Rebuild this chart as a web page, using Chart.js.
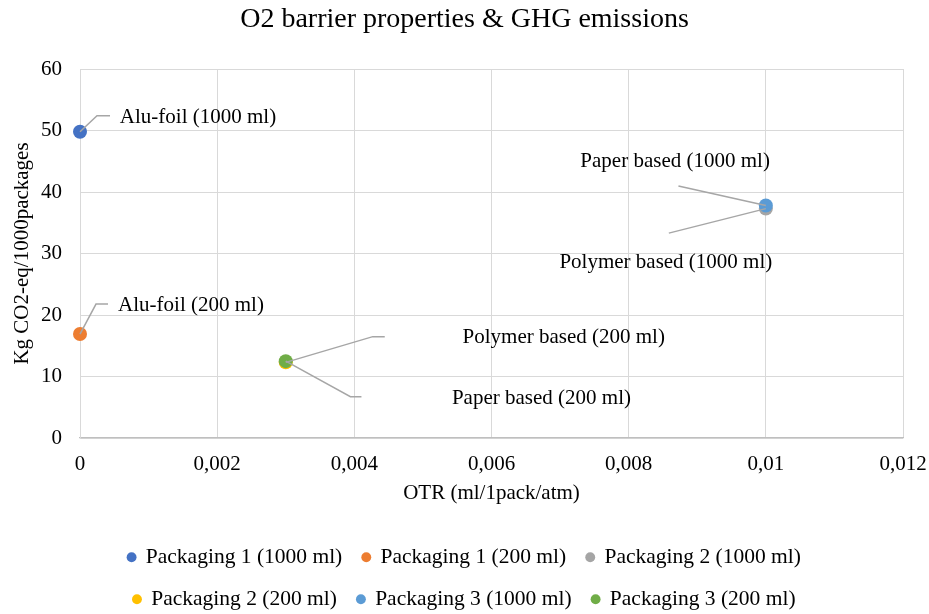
<!DOCTYPE html>
<html>
<head>
<meta charset="utf-8">
<script src="https://cdn.jsdelivr.net/npm/chart.js@4/dist/chart.umd.min.js"></script>
<style>
  html, body { margin: 0; padding: 0; background: #ffffff; }
  canvas { display: block; }
</style>
</head>
<body>
<canvas id="chart" width="929" height="614"></canvas>
<script>
// Series shown in the legend
const seriesNames = [
  'Packaging 1 (1000 ml)',
  'Packaging 1 (200 ml)',
  'Packaging 2 (1000 ml)',
  'Packaging 2 (200 ml)',
  'Packaging 3 (1000 ml)',
  'Packaging 3 (200 ml)'
];
// OTR (ml/1pack/atm) per series
const otrValues = [0, 0, 0.01, 0.003, 0.01, 0.003];
// Kg CO2-eq per 1000 packages per series
const ghgValues = [49.8, 16.9, 37.3, 12.3, 37.8, 12.5];
// Callout text next to each point
const pointLabels = [
  'Alu-foil (1000 ml)',
  'Alu-foil (200 ml)',
  'Polymer based (1000 ml)',
  'Polymer based (200 ml)',
  'Paper based (1000 ml)',
  'Paper based (200 ml)'
];
// Axis tick labels (decimal comma)
const xTickLabels = ['0', '0,002', '0,004', '0,006', '0,008', '0,01', '0,012'];
const yTickLabels = ['0', '10', '20', '30', '40', '50', '60'];

// Styling
const seriesColors = ['#4472C4', '#ED7D31', '#A5A5A5', '#FFC000', '#5B9BD5', '#70AD47'];
const FONT = "'Liberation Serif', 'Times New Roman', serif";
const GRID = '#D9D9D9';
const LEADER = '#A6A6A6';

// Callout geometry, in pixels relative to each point: leader-line vertices and text centre
const calloutLayout = [
  { path: [[17, -16], [30, -16]], text: [118, -14] },
  { path: [[16, -30], [28, -30]], text: [111, -29] },
  { path: [[-97, 24.5]],           text: [-100, 53.5] },
  { path: [[87, -25.7], [99, -25.7]], text: [278, -24.4] },
  { path: [[-87.4, -19.5]],        text: [-90.7, -44.5] },
  { path: [[64.7, 35.6], [75.7, 35.6]], text: [255.7, 37] }
];

const datasets = seriesNames.map((name, i) => ({
  label: name,
  data: [{ x: otrValues[i], y: ghgValues[i] }],
  backgroundColor: seriesColors[i],
  borderColor: seriesColors[i],
  pointRadius: 7,
  pointHoverRadius: 7,
  pointBorderWidth: 0,
  pointStyle: 'circle',
  clip: false,
  order: seriesNames.length - 1 - i   // later series drawn on top
}));

const calloutPlugin = {
  id: 'callouts',
  afterDatasetsDraw(chart) {
    const ctx = chart.ctx;
    ctx.save();
    ctx.font = '21px ' + FONT;
    ctx.fillStyle = '#000000';
    ctx.textAlign = 'center';
    ctx.textBaseline = 'middle';
    ctx.strokeStyle = LEADER;
    ctx.lineWidth = 1.5;
    chart.data.datasets.forEach((ds, i) => {
      const el = chart.getDatasetMeta(i).data[0];
      if (!el) return;
      const c = calloutLayout[i];
      ctx.beginPath();
      ctx.moveTo(el.x, el.y);
      c.path.forEach(([dx, dy]) => ctx.lineTo(el.x + dx, el.y + dy));
      ctx.stroke();
      ctx.fillText(pointLabels[i], el.x + c.text[0], el.y + c.text[1]);
    });
    ctx.restore();
  }
};

Chart.defaults.font.family = FONT;
Chart.defaults.color = '#000000';

new Chart(document.getElementById('chart'), {
  type: 'scatter',
  data: { datasets },
  options: {
    responsive: false,
    devicePixelRatio: 1,
    animation: false,
    layout: { padding: 0 },
    plugins: {
      tooltip: { enabled: false },
      title: {
        display: true,
        text: 'O2 barrier properties & GHG emissions',
        font: { size: 28, weight: 'normal', family: FONT },
        color: '#000000',
        padding: { top: 3, bottom: 32.4 }
      },
      legend: {
        position: 'bottom',
        maxHeight: 88,
        labels: {
          usePointStyle: true,
          pointStyle: 'circle',
          boxWidth: 7,
          boxHeight: 7,
          padding: 20.5,
          font: { size: 21.5, family: FONT },
          color: '#000000',
          sort: (a, b) => a.datasetIndex - b.datasetIndex
        }
      }
    },
    scales: {
      x: {
        type: 'linear',
        min: 0,
        max: 0.012,
        afterFit(scale) {
          scale.height = 88;
          scale.paddingRight = 26;
        },
        ticks: {
          stepSize: 0.002,
          padding: 13.4,
          font: { size: 21, family: FONT },
          color: '#000000',
          callback: (v, idx) => xTickLabels[idx]
        },
        grid: { color: GRID, lineWidth: 1, drawTicks: false },
        border: { color: '#BFBFBF', width: 1.3 },
        title: {
          display: true,
          text: 'OTR (ml/1pack/atm)',
          font: { size: 21, family: FONT },
          color: '#000000',
          padding: { top: 0, bottom: 20.4 }
        }
      },
      y: {
        type: 'linear',
        min: 0,
        max: 60,
        afterFit(scale) {
          scale.width = 80;
        },
        ticks: {
          stepSize: 10,
          padding: 18,
          font: { size: 21, family: FONT },
          color: '#000000',
          callback: (v, idx) => yTickLabels[idx]
        },
        grid: { color: GRID, lineWidth: 1, drawTicks: false },
        border: { color: GRID, width: 1 },
        title: {
          display: true,
          text: 'Kg CO2-eq/1000packages',
          font: { size: 21, family: FONT },
          color: '#000000',
          padding: { top: 10, bottom: 0 }
        }
      }
    }
  },
  plugins: [calloutPlugin]
});
</script>
</body>
</html>
